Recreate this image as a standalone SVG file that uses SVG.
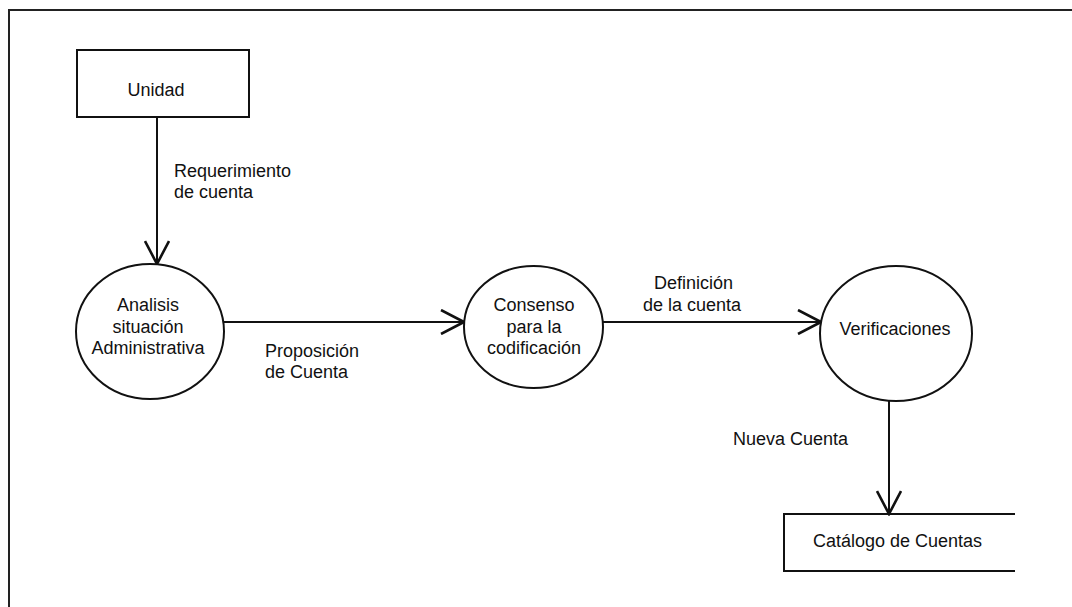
<svg xmlns="http://www.w3.org/2000/svg" width="1072" height="607" viewBox="0 0 1072 607">
<defs>
<style>
.shape{fill:#fff;stroke:#111;stroke-width:2}
.frame{fill:none;stroke:#222;stroke-width:2}
.conn{fill:none;stroke:#111;stroke-width:2}
text{font-family:"Liberation Sans",Arial,sans-serif;font-size:18px;fill:#111}
.c{text-anchor:middle}
</style>
<marker id="arr" viewBox="0 0 26 26" refX="24" refY="13" markerWidth="26" markerHeight="26" markerUnits="userSpaceOnUse" orient="auto">
<path d="M1,1 L24,13 L1,25" fill="none" stroke="#111" stroke-width="2.6"/>
</marker>
</defs>
<rect width="1072" height="607" fill="#fff"/>
<path class="frame" d="M9,607 L9,10 L1072,10"/>
<g id="connectors">
<line class="conn" x1="157" y1="117" x2="157" y2="264" marker-end="url(#arr)"/>
<line class="conn" x1="224" y1="322" x2="464" y2="322" marker-end="url(#arr)"/>
<line class="conn" x1="603" y1="322" x2="821" y2="322" marker-end="url(#arr)"/>
<line class="conn" x1="889" y1="401" x2="889" y2="514" marker-end="url(#arr)"/>
<text x="174" y="177">Requerimiento</text>
<text x="174" y="198">de cuenta</text>
<text x="265" y="357">Proposición</text>
<text x="265" y="378">de Cuenta</text>
<text x="654" y="289">Definición</text>
<text x="643" y="311">de la cuenta</text>
<text x="733" y="445">Nueva Cuenta</text>
</g>
<g id="unidad">
<rect class="shape" x="77" y="50" width="172" height="67"/>
<text class="c" x="156" y="96">Unidad</text>
</g>
<g id="analisis">
<ellipse class="shape" cx="150" cy="331.5" rx="74" ry="67.5"/>
<text class="c" x="148" y="311">Analisis</text>
<text class="c" x="148" y="333">situación</text>
<text class="c" x="148" y="354">Administrativa</text>
</g>
<g id="consenso">
<ellipse class="shape" cx="533.5" cy="327" rx="69.5" ry="61"/>
<text class="c" x="534" y="311">Consenso</text>
<text class="c" x="534" y="333">para la</text>
<text class="c" x="534" y="354">codificación</text>
</g>
<g id="verificaciones">
<ellipse class="shape" cx="896" cy="333.5" rx="76" ry="67.5"/>
<text class="c" x="895" y="335">Verificaciones</text>
</g>
<g id="catalogo">
<path class="conn" d="M1015,514 L784,514 L784,571 L1015,571"/>
<text x="813" y="547">Catálogo de Cuentas</text>
</g>
</svg>
